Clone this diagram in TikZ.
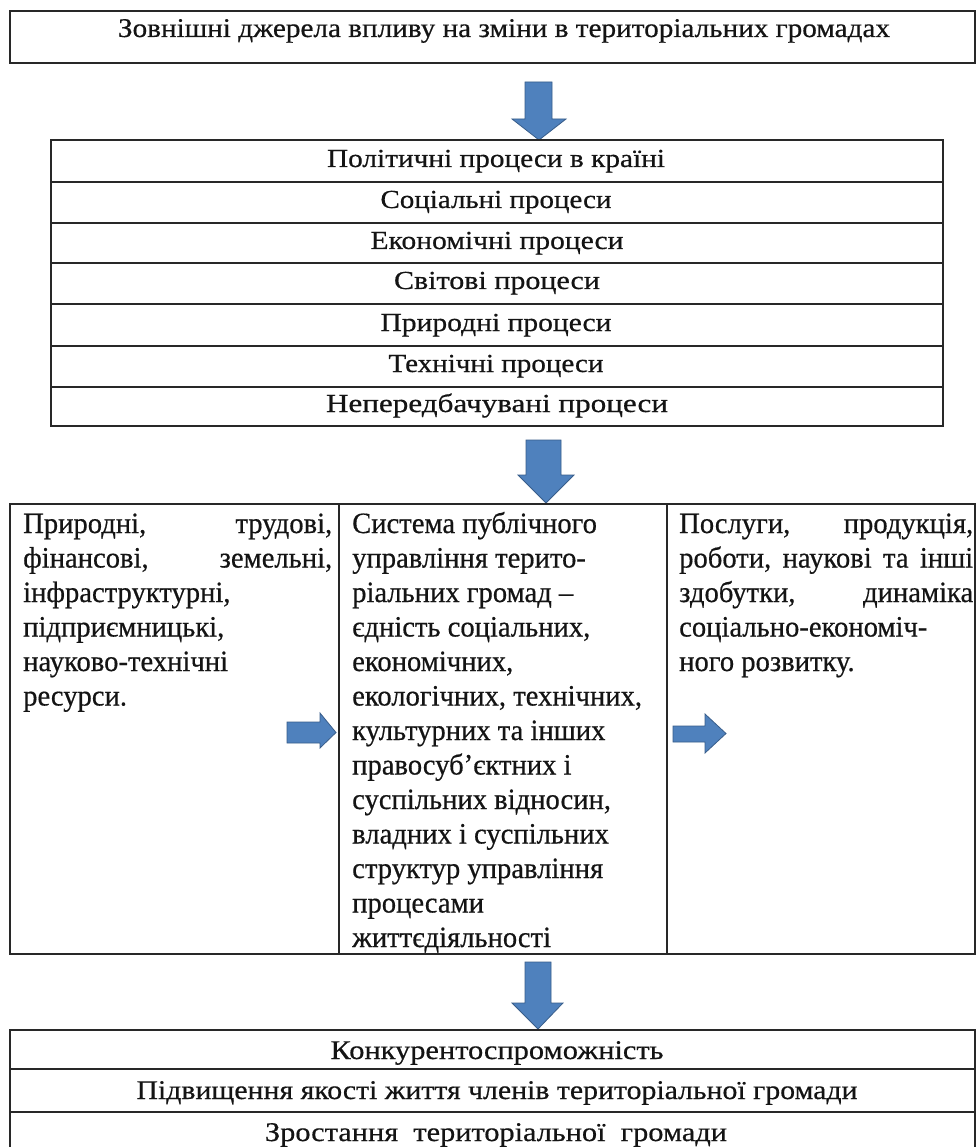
\documentclass[tikz,border=0pt]{standalone}
\usepackage{fontspec}
\setmainfont[FakeBold=0.5]{Liberation Serif}
\newfontfamily\colfont[FakeBold=0.5,FakeStretch=0.97]{Liberation Serif}
\usepackage{graphicx}
\newcommand\fitw[2]{\resizebox{#1}{\height}{#2}}
\definecolor{arrowfill}{RGB}{79,129,189}
\definecolor{arrowedge}{RGB}{56,93,138}
\definecolor{rulecol}{RGB}{40,40,40}
\definecolor{txtcol}{RGB}{20,20,20}
\tikzset{
  tbl/.style={draw=rulecol, line width=1.8pt, anchor=north west, inner sep=0pt, outer sep=0pt},
  barrow/.style={fill=arrowfill, draw=arrowedge, line width=0.8pt, line join=miter},
  rowtext/.style={anchor=base, inner sep=0pt, text=txtcol, font=\fontsize{26}{30}\selectfont},
  bigtext/.style={rowtext, font=\fontsize{27}{30}\selectfont},
  coltext/.style={anchor=base west, inner sep=0pt, text=txtcol, font=\colfont\fontsize{29.5}{34.5}\selectfont},
}
\begin{document}
\begin{tikzpicture}[x=1pt,y=-1pt]
\useasboundingbox (0,0) rectangle (978,1147);
\fill[white] (0,0) rectangle (978,1147);
% top box
\node[tbl, minimum width=965pt, minimum height=52pt] (src) at (10,11) {};
\node[bigtext] (srct) at (504,37) {\fitw{772pt}{Зовнішні джерела впливу на зміни в територіальних громадах}};
% arrow 1
\draw[barrow] (525,82) -- (552,82) -- (552,119) -- (566,119) -- (539,140) -- (512,119) -- (525,119) -- cycle;
% middle table
\node[tbl, minimum width=892pt, minimum height=42pt] (p1) at (51,140) {};
\node[tbl, minimum width=892pt, minimum height=41pt] (p2) at (51,182) {};
\node[tbl, minimum width=892pt, minimum height=40pt] (p3) at (51,223) {};
\node[tbl, minimum width=892pt, minimum height=41pt] (p4) at (51,263) {};
\node[tbl, minimum width=892pt, minimum height=42pt] (p5) at (51,304) {};
\node[tbl, minimum width=892pt, minimum height=41pt] (p6) at (51,346) {};
\node[tbl, minimum width=892pt, minimum height=39pt] (p7) at (51,387) {};
\node[rowtext] (t1) at (496,167) {\fitw{338pt}{Політичні процеси в країні}};
\node[rowtext] (t2) at (496,208) {\fitw{231pt}{Соціальні процеси}};
\node[rowtext] (t3) at (497,249) {\fitw{253pt}{Економічні процеси}};
\node[rowtext] (t4) at (497,289) {\fitw{206pt}{Світові процеси}};
\node[rowtext] (t5) at (496,331) {\fitw{231pt}{Природні процеси}};
\node[rowtext] (t6) at (496,372) {\fitw{215pt}{Технічні процеси}};
\node[rowtext] (t7) at (497,412) {\fitw{342pt}{Непередбачувані процеси}};
% arrow 2
\draw[barrow] (526,440) -- (561,440) -- (561,475) -- (574,475) -- (546,503) -- (518,475) -- (526,475) -- cycle;
% three columns
\node[tbl, minimum width=329pt, minimum height=450pt] (cL) at (10,504) {};
\node[tbl, minimum width=328pt, minimum height=450pt] (cM) at (339,504) {};
\node[tbl, minimum width=308pt, minimum height=450pt] (cR) at (667,504) {};
\node[coltext] (lt) at (23,533) {\parbox[t]{309pt}{Природні,\hfill трудові,\\ фінансові,\hfill земельні,\\ інфраструктурні,\\ підприємницькі,\\ науково-технічні\\ ресурси.}};
\node[coltext] (mt) at (352,533) {\parbox[t]{310pt}{Система публічного\\ управління терито-\\ ріальних громад –\\ єдність соціальних,\\ економічних,\\ екологічних, технічних,\\ культурних та інших\\ правосуб’єктних і\\ суспільних відносин,\\ владних і суспільних\\ структур управління\\ процесами\\ життєдіяльності}};
\node[coltext] (rt) at (679,533) {\parbox[t]{294pt}{Послуги,\hfill продукція,\\ роботи,\hfill наукові\hfill та\hfill інші\\ здобутки,\hfill динаміка\\ соціально-економіч-\\ ного розвитку.}};
% small arrows
\draw[barrow] (287,722) -- (320,722) -- (320,713) -- (336,732.5) -- (320,748) -- (320,743) -- (287,743) -- cycle;
\draw[barrow] (673,726) -- (705,726) -- (705,714) -- (726,733.5) -- (705,753) -- (705,742) -- (673,742) -- cycle;
% arrow 3
\draw[barrow] (525,962) -- (551,962) -- (551,1003) -- (563,1003) -- (538,1029) -- (512,1003) -- (525,1003) -- cycle;
% bottom table
\node[tbl, minimum width=965pt, minimum height=39pt] (b1) at (10,1030) {};
\node[tbl, minimum width=965pt, minimum height=43pt] (b2) at (10,1069) {};
\draw[draw=rulecol, line width=1.8pt] (10,1160) -- (b2.south west) -- (b2.south east) -- (975,1160);
\node[bigtext] (bt1) at (497,1059) {\fitw{333pt}{Конкурентоспроможність}};
\node[bigtext] (bt2) at (497,1099) {\fitw{721pt}{Підвищення якості життя членів територіальної громади}};
\node[bigtext] (bt3) at (496,1141) {\fitw{462pt}{Зростання\ \ територіальної\ \ громади}};
\end{tikzpicture}
\end{document}
